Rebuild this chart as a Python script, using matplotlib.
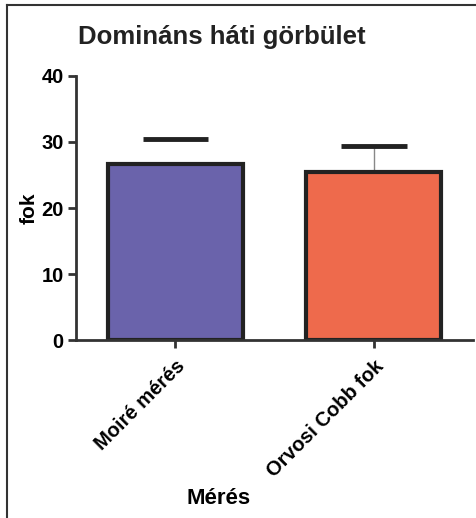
import numpy as np
import matplotlib.pyplot as plt
from matplotlib.lines import Line2D

# Data
categories = ['Moiré mérés', 'Orvosi Cobb fok']
means = [26.6, 25.5]
upper_err = [3.9, 3.9]
bar_colors = ['#6a63ab', '#ee6a4c']
err_line_colors = ['none', '#888888']

plt.rcParams['font.family'] = ['Liberation Sans', 'DejaVu Sans']
plt.rcParams['font.weight'] = 'bold'

fig = plt.figure(figsize=(4.76, 5.18), dpi=100)
ax = fig.add_axes([0.1597, 0.3436, 0.834, 0.5097])

x = np.arange(len(categories))
ax.bar(x, means, width=0.68, color=bar_colors, edgecolor='#222222', linewidth=3, zorder=2)

# error bars: thin stem + thick cap
tops = np.array(means) + np.array(upper_err)
ax.vlines(x, means, tops, colors=err_line_colors, linewidth=1, zorder=1)
ax.hlines(tops, x - 0.165, x + 0.165, colors='#222222', linewidth=3.5, zorder=3)

ax.set_xlim(-0.5, 1.5)
ax.set_ylim(0, 40)
ax.set_yticks([0, 10, 20, 30, 40])
ax.set_xticks(x)
ax.set_xticklabels(categories, rotation=45, ha='right', rotation_mode='anchor', fontsize=14.5)
ax.tick_params(axis='y', labelsize=14.5, width=2, length=6, color='#333333', pad=3)
ax.tick_params(axis='x', width=2, length=6, color='#333333', pad=6)
for s in ['top', 'right']:
    ax.spines[s].set_visible(False)
for s in ['left', 'bottom']:
    ax.spines[s].set_linewidth(2)
    ax.spines[s].set_color('#333333')

ax.set_ylabel('fok', fontsize=15, fontweight='bold')
ax.set_xlabel('Mérés', fontsize=16, fontweight='bold')
ax.xaxis.set_label_coords(0.36, -0.56)
ax.yaxis.set_label_coords(-0.095, 0.5)

fig.text(0.163, 0.928, 'Domináns háti görbület', fontsize=18.5, fontweight='bold',
         va='center', ha='left', color='#222222')

# outer frame (left and top only visible)
fig.add_artist(Line2D([0.015, 0.015], [0, 0.99], transform=fig.transFigure, color='#333333', lw=1.5))
fig.add_artist(Line2D([0.015, 1], [0.99, 0.99], transform=fig.transFigure, color='#333333', lw=1.5))

fig.savefig('out.png', dpi=100)
